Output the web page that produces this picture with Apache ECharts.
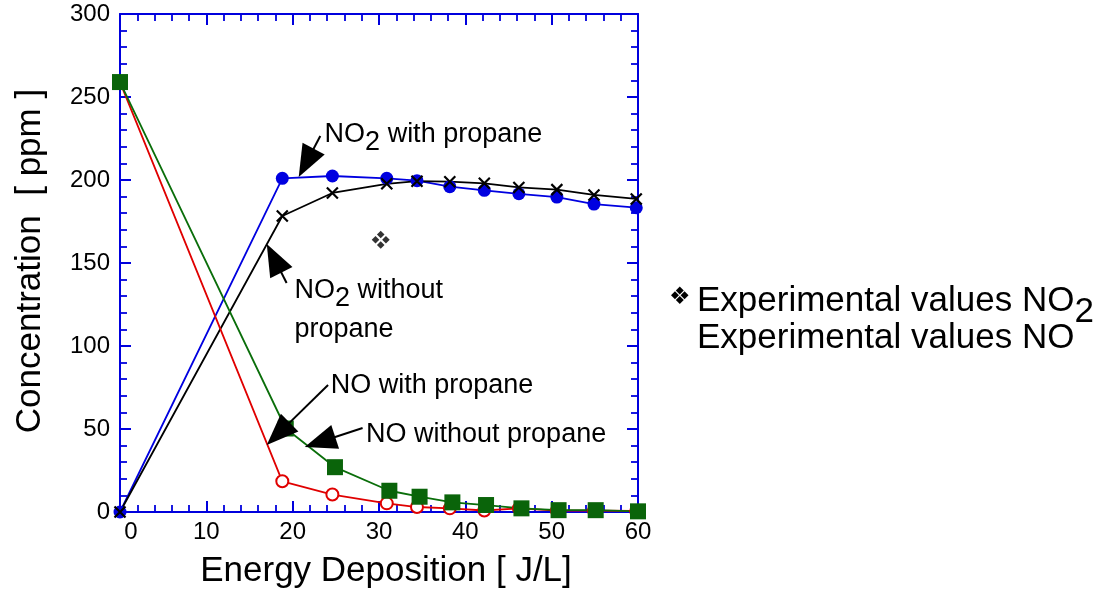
<!DOCTYPE html>
<html>
<head>
<meta charset="utf-8">
<script src="https://cdn.jsdelivr.net/npm/echarts@6/dist/echarts.min.js"></script>
<style>
html,body{margin:0;padding:0;background:#fff;}
#c{width:1099px;height:591px;}
</style>
</head>
<body>
<div id="c"></div>
<script>
// ---- data ----
const energy      = [0, 18.8, 24.6, 30.9, 34.4, 38.2, 42.2, 46.2, 50.6, 54.9, 59.8];
const energyNOw   = [0, 19.2, 24.9, 31.2, 34.7, 38.5, 42.4, 46.5, 50.8, 55.1, 60.0];
const no2With     = [0, 201, 202.4, 201, 199.6, 196, 193.8, 191.7, 189.7, 185.5, 183.3];
const no2Without  = [0, 178.3, 192.2, 197.7, 199.3, 199, 198, 195.5, 194.2, 191, 188.6];
const noWith      = [259, 18.5, 10.5, 5.2, 3, 2.2, 0.9, 2.2, 0.8, 0.8, 0.6];
const noWithout   = [259, 50.3, 27, 12.8, 9.2, 5.8, 4.2, 2.2, 1.1, 1.1, 0.4];
const expNO2X     = [30.2];
const expNO2Y     = [164];
const xTicks      = [0, 60, 10];
const yTicks      = [0, 300, 50];

const FONT = '"Liberation Sans", Arial, Helvetica, sans-serif';
const AX = '#0000dd';
const pairs = (xs, ys) => xs.map((x, i) => [x, ys[i]]);
const fourDiamonds = 'path://M10 0.5L14 4.5L10 8.5L6 4.5Z M0.5 10L4.5 6L8.5 10L4.5 14Z M11.5 10L15.5 6L19.5 10L15.5 14Z M10 11.5L14 15.5L10 19.5L6 15.5Z';
const xMark = 'path://M0 0L10 10M10 0L0 10';

const chart = echarts.init(document.getElementById('c'), null, {renderer: 'canvas'});

function axisCommon(showLabel) {
  return {
    axisLine: {show: true, onZero: false, lineStyle: {color: AX, width: 2}},
    axisTick: {show: true, inside: true, length: 11, lineStyle: {color: AX, width: 2}},
    minorTick: {show: true, splitNumber: 5, length: 7, lineStyle: {color: AX, width: 1.8}},
    splitLine: {show: false},
    axisLabel: {show: showLabel, color: '#000', fontSize: 24, fontFamily: FONT, margin: 10}
  };
}

const option = {
  animation: false,
  backgroundColor: '#fff',
  grid: {left: 120, top: 14, width: 518, height: 498, containLabel: false},
  xAxis: [
    Object.assign({type: 'value', position: 'bottom', min: xTicks[0], max: xTicks[1], interval: xTicks[2]}, axisCommon(true), {
      axisLabel: {show: true, color: '#000', fontSize: 24, fontFamily: FONT, margin: 8,
        formatter: v => v === 0 ? '{z|0}' : String(v),
        rich: {z: {fontSize: 24, fontFamily: FONT, color: '#000', padding: [0, 0, 0, 22]}}}
    }),
    Object.assign({type: 'value', position: 'top', min: xTicks[0], max: xTicks[1], interval: xTicks[2]}, axisCommon(false))
  ],
  yAxis: [
    Object.assign({type: 'value', position: 'left', min: yTicks[0], max: yTicks[1], interval: yTicks[2]}, axisCommon(true)),
    Object.assign({type: 'value', position: 'right', min: yTicks[0], max: yTicks[1], interval: yTicks[2]}, axisCommon(false))
  ],
  series: [
    {name: 'NO2 with propane', type: 'line', data: pairs(energy, no2With), clip: false,
      symbol: 'circle', symbolSize: 13, color: '#0000e0',
      lineStyle: {color: '#0000e0', width: 1.8}, itemStyle: {color: '#0000e0'}},
    {name: 'NO2 without propane', type: 'line', data: pairs(energy, no2Without), clip: false,
      symbol: xMark, symbolSize: 11, color: '#000',
      lineStyle: {color: '#000', width: 1.8}, itemStyle: {color: 'none', borderColor: '#000', borderWidth: 2.2}},
    {name: 'NO with propane', type: 'line', data: pairs(energy, noWith), clip: false,
      symbol: 'emptyCircle', symbolSize: 12, color: '#e00000',
      lineStyle: {color: '#e00000', width: 1.8}, itemStyle: {color: '#e00000', borderWidth: 3}},
    {name: 'NO without propane', type: 'line', data: pairs(energyNOw, noWithout), clip: false,
      symbol: 'rect', symbolSize: 16, color: '#0a640a',
      lineStyle: {color: '#0a6e0a', width: 1.8}, itemStyle: {color: '#0a640a'}},
    {name: 'Experimental values NO2', type: 'scatter', data: pairs(expNO2X, expNO2Y), clip: false,
      symbol: fourDiamonds, symbolSize: 18, itemStyle: {color: '#000'}}
  ]
};
chart.setOption(option);

// ---- annotations (positioned in data space) ----
const annotations = [
  {tail: [23.2, 226.5], tip: [20.7, 201.8], at: [23.7, 229], rich: '{a|NO}{b|2}{a| with propane}'},
  {tail: [19.3, 138.0], tip: [17.0, 161.4], at: [20.2, 135], rich: '{a|NO}{b|2}{a| without}'},
  {tail: null, tip: null, at: [20.2, 111.4], rich: '{a|propane}'},
  {tail: [24.1, 76.5], tip: [17.0, 40.4], at: [24.4, 77.7], rich: '{a|NO with propane}'},
  {tail: [28.1, 50.6], tip: [21.4, 39.2], at: [28.5, 48.2], rich: '{a|NO without propane}'}
];
const richStyles = {
  a: {fontSize: 27, fontFamily: FONT, color: '#000', lineHeight: 30, verticalAlign: 'top'},
  b: {fontSize: 27, fontFamily: FONT, color: '#000', lineHeight: 30, verticalAlign: 'top', padding: [8, 0, 0, 0]}
};
const graphics = [];
const toPx = p => chart.convertToPixel({gridIndex: 0}, p);
annotations.forEach(an => {
  if (an.tail) {
    const T = toPx(an.tail), P = toPx(an.tip);
    const dx = P[0] - T[0], dy = P[1] - T[1], len = Math.hypot(dx, dy);
    const ux = dx / len, uy = dy / len, nx = -uy, ny = ux;
    const L = 32, W = 25;
    const B = [P[0] - ux * L, P[1] - uy * L];
    graphics.push({type: 'line', shape: {x1: T[0], y1: T[1], x2: B[0] + ux * 4, y2: B[1] + uy * 4},
      style: {stroke: '#000', lineWidth: 2}, z: 100});
    graphics.push({type: 'polygon', shape: {points: [P, [B[0] + nx * W / 2, B[1] + ny * W / 2], [B[0] - nx * W / 2, B[1] - ny * W / 2]]},
      style: {fill: '#000'}, z: 100});
  }
  const A = toPx(an.at);
  graphics.push({type: 'text', x: A[0], y: A[1] + 4, z: 101,
    style: {text: an.rich, rich: richStyles, align: 'left', verticalAlign: 'middle', fill: '#000'}});
});

// axis titles
graphics.push({type: 'text', x: 386, y: 571, style: {text: 'Energy Deposition [ J/L]', font: '35px ' + FONT, fill: '#000', align: 'center', verticalAlign: 'middle'}});
graphics.push({type: 'text', x: 30, y: 261, rotation: Math.PI / 2, style: {text: 'Concentration  [ ppm ]', font: '35px ' + FONT, fill: '#000', align: 'center', verticalAlign: 'middle'}});

// legend on the right
graphics.push({type: 'text', x: 669, y: 298, style: {text: '\u2756', font: '24px "DejaVu Sans", sans-serif', fill: '#000', align: 'left', verticalAlign: 'middle'}});
graphics.push({type: 'text', x: 697, y: 303, style: {
  text: '{a|Experimental values NO}{b|2}', align: 'left', verticalAlign: 'middle',
  rich: {
    a: {fontSize: 35, fontFamily: FONT, color: '#000', lineHeight: 38, verticalAlign: 'top'},
    b: {fontSize: 35, fontFamily: FONT, color: '#000', lineHeight: 38, verticalAlign: 'top', padding: [11, 0, 0, 0]}
  }}});
graphics.push({type: 'text', x: 697, y: 338, style: {text: 'Experimental values NO', font: '35px ' + FONT, fill: '#000', align: 'left', verticalAlign: 'middle'}});

chart.setOption({graphic: graphics});
</script>
</body>
</html>
